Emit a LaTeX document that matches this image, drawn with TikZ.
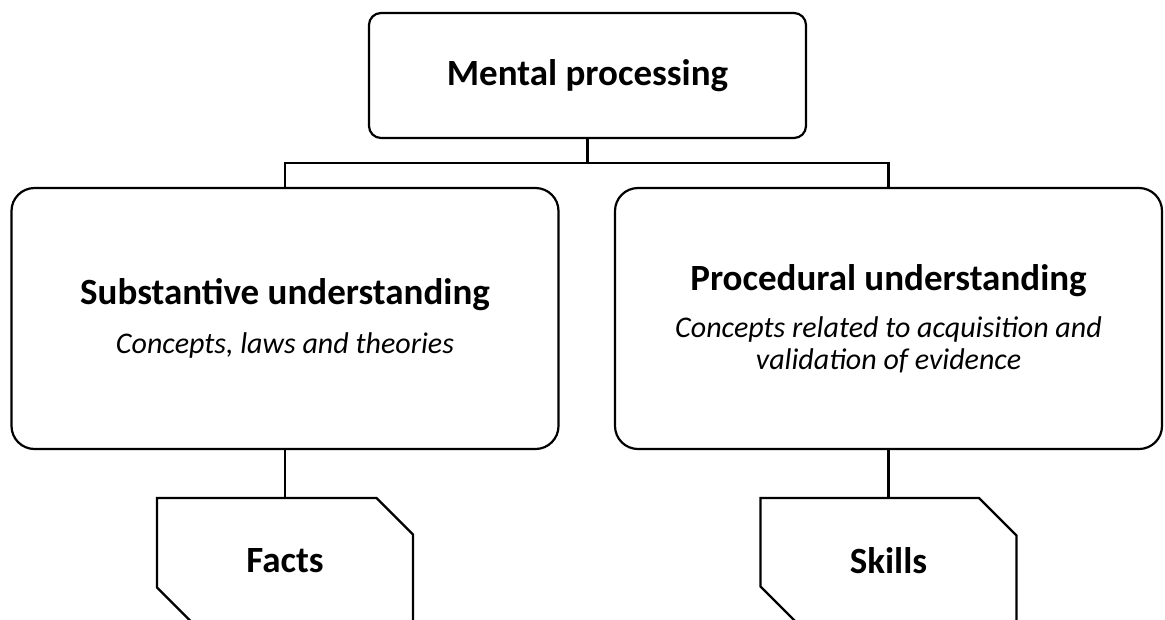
\documentclass[tikz,border=0pt]{standalone}
\usepackage{fontspec}
\setmainfont{Carlito}
\usetikzlibrary{shapes.misc}

\newcommand{\headfont}{\fontsize{37}{44}\selectfont\bfseries\upshape}
\newcommand{\notefont}{\fontsize{30}{32}\selectfont\itshape}

\tikzset{
  topbox/.style={draw, line width=2.2pt, rounded corners=12pt, minimum width=437pt, minimum height=125pt, font=\headfont},
  bigbox/.style={draw, line width=2.2pt, rounded corners=23pt, minimum width=547pt, minimum height=261pt, align=center, font=\notefont},
  leafbox/.style={draw, line width=2.2pt, chamfered rectangle, chamfered rectangle corners={north east,south west},
    chamfered rectangle sep=21pt, minimum width=256pt, minimum height=126pt, font=\headfont},
  link/.style={draw, line width=2.2pt},
}

\begin{document}
\begin{tikzpicture}[x=1pt, y=1pt]
\useasboundingbox (0,0) rectangle (1165,-619);
\node (mental) [topbox] at (587.5,-75.5) {Mental processing};
\node (subst) [bigbox] at (285,-318.5) {{\headfont Substantive understanding}\\[17pt]Concepts, laws and theories};
\node (proc) [bigbox] at (888.5,-318.5) {{\headfont Procedural understanding}\\[15pt]Concepts related to acquisition and\\validation of evidence};
\node (facts) [leafbox] at (285,-561) {Facts};
\node (skills) [leafbox] at (888.5,-561) {Skills};
\coordinate (bar) at (587.5,-163);
\draw [link] (mental.south) -- (bar) -| (subst.north);
\draw [link] (bar) -| (proc.north);
\draw [link] (subst.south) -- (facts.north);
\draw [link] (proc.south) -- (skills.north);
\end{tikzpicture}
\end{document}
